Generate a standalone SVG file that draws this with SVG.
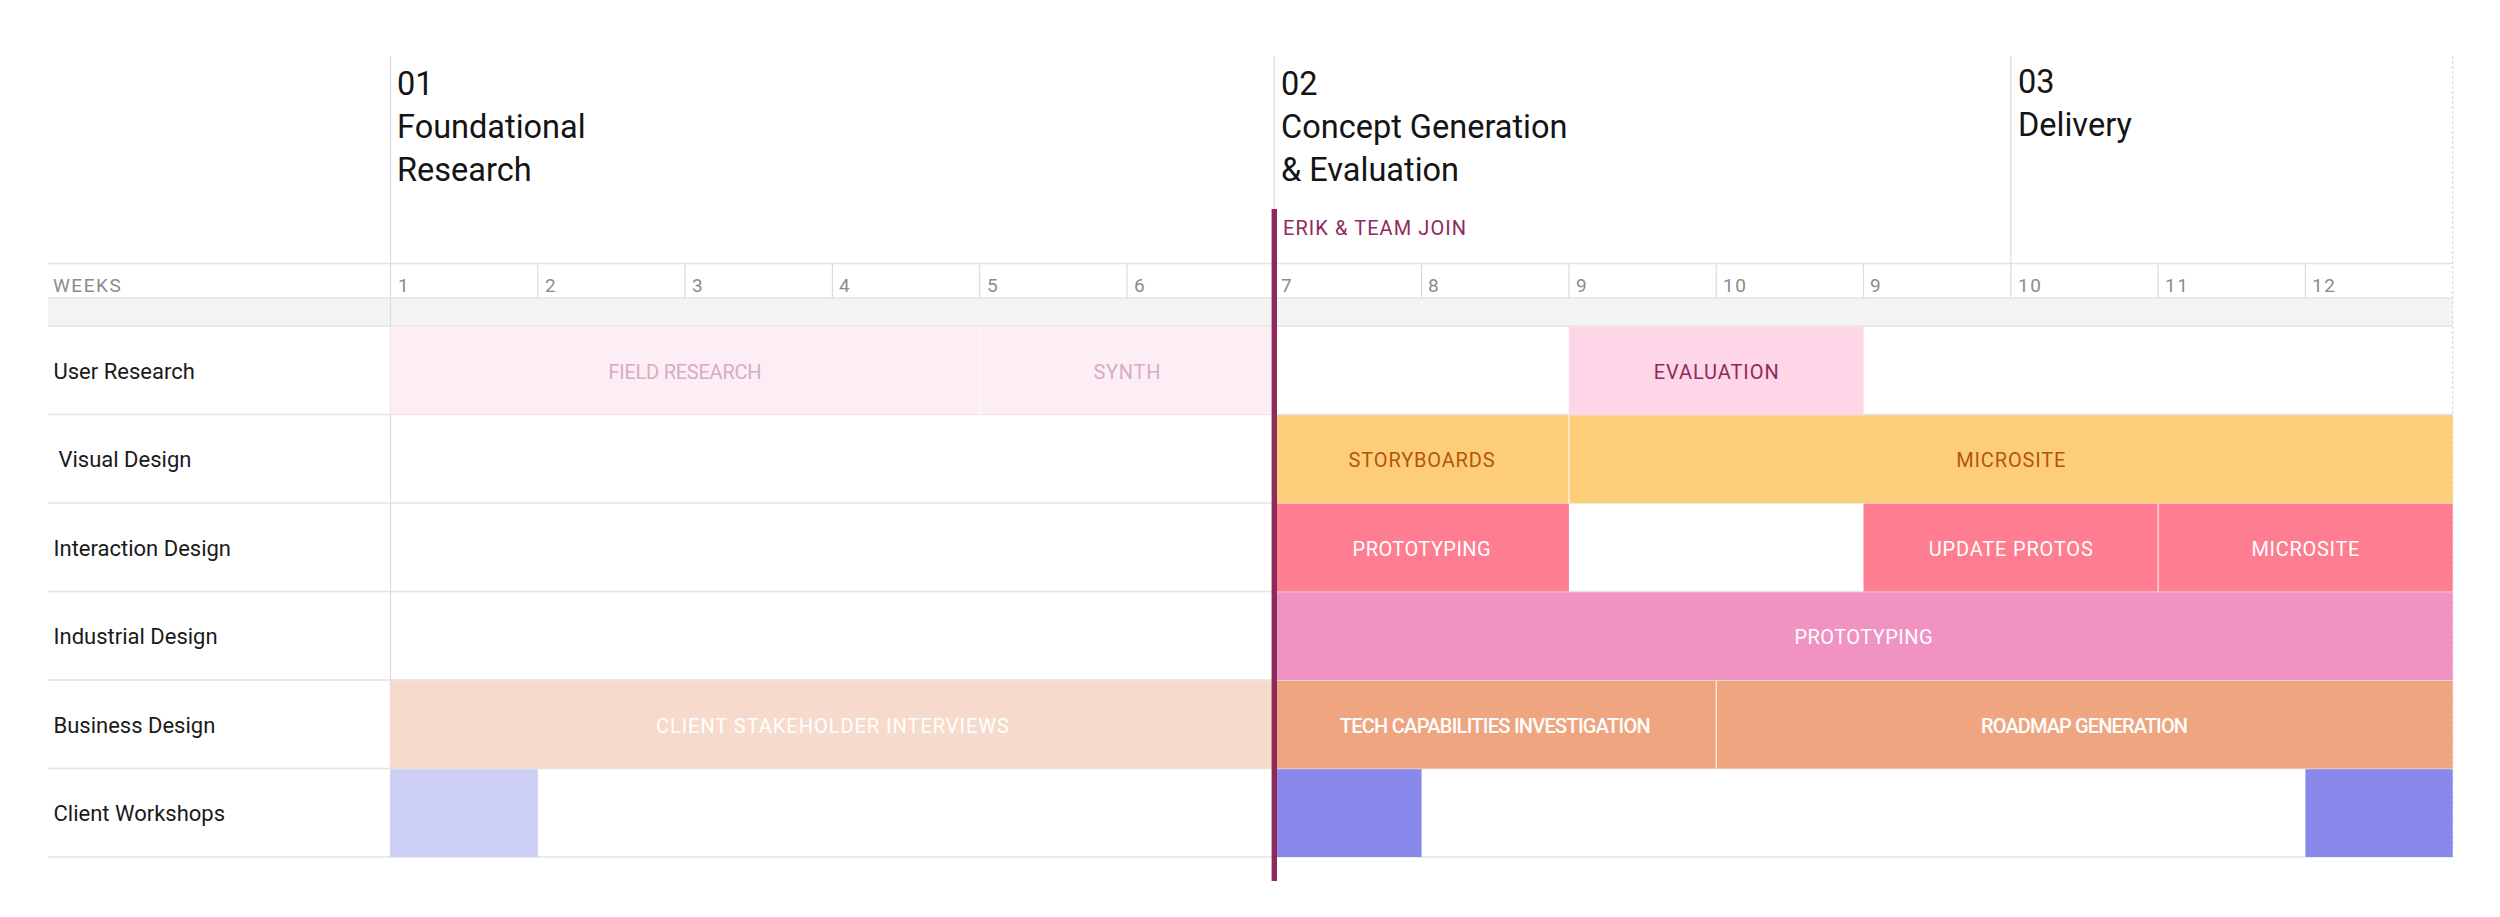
<svg xmlns="http://www.w3.org/2000/svg" width="2500" height="917" viewBox="0 0 2500 917">
<style>
  text { font-family: Roboto, "Liberation Sans", sans-serif; }
  .phase { font-size: 32.5px; fill: #141414; }
  .rowlbl { font-size: 22px; fill: #1a1a1a; }
  .wk { font-size: 19px; fill: #8c8c8c; letter-spacing: 1.5px; }
  .grid { stroke: #e3e3e3; stroke-width: 1.5; fill: none; }
  .vline { stroke: #dcdcdc; stroke-width: 1.2; fill: none; }
  .bl { font-size: 20px; text-anchor: middle; }
  .sep { stroke: #ffffff; stroke-width: 1.2; opacity: 0.8; }
</style>

<rect width="2500" height="917" fill="#ffffff"/>

<!-- header / grid -->
<g id="grid">
  <rect x="48" y="298" width="2404.7" height="28" fill="#f4f4f4"/>
  <line class="grid" x1="48" y1="263.5" x2="2452.7" y2="263.5"/>
  <line class="grid" x1="48" y1="298" x2="2452.7" y2="298"/>
  <line class="grid" x1="48" y1="326" x2="2452.7" y2="326"/>
  <line class="grid" x1="48" y1="414.5" x2="2452.7" y2="414.5"/>
  <line class="grid" x1="48" y1="503" x2="2452.7" y2="503"/>
  <line class="grid" x1="48" y1="591.5" x2="2452.7" y2="591.5"/>
  <line class="grid" x1="48" y1="680" x2="2452.7" y2="680"/>
  <line class="grid" x1="48" y1="768.5" x2="2452.7" y2="768.5"/>
  <line class="grid" x1="48" y1="857" x2="2452.7" y2="857"/>
  <line class="vline" x1="390.5" y1="56" x2="390.5" y2="857"/>
  <line class="vline" x1="1274.3" y1="56" x2="1274.3" y2="298"/>
  <line class="vline" x1="2010.8" y1="56" x2="2010.8" y2="298"/>
  <line class="vline" x1="2452.7" y1="56" x2="2452.7" y2="857" stroke="#e6e6e6" stroke-dasharray="3 2"/>
  <g class="vline">
    <line x1="537.8" y1="263.5" x2="537.8" y2="298"/>
    <line x1="685.1" y1="263.5" x2="685.1" y2="298"/>
    <line x1="832.4" y1="263.5" x2="832.4" y2="298"/>
    <line x1="979.7" y1="263.5" x2="979.7" y2="298"/>
    <line x1="1127.0" y1="263.5" x2="1127.0" y2="298"/>
    <line x1="1421.6" y1="263.5" x2="1421.6" y2="298"/>
    <line x1="1568.9" y1="263.5" x2="1568.9" y2="298"/>
    <line x1="1716.2" y1="263.5" x2="1716.2" y2="298"/>
    <line x1="1863.5" y1="263.5" x2="1863.5" y2="298"/>
    <line x1="2158.1" y1="263.5" x2="2158.1" y2="298"/>
    <line x1="2305.4" y1="263.5" x2="2305.4" y2="298"/>
  </g>
</g>

<!-- phases -->
<g id="phase-1">
  <text class="phase" x="397" y="95">01</text>
  <text class="phase" x="397" y="138">Foundational</text>
  <text class="phase" x="397" y="181">Research</text>
</g>
<g id="phase-2">
  <text class="phase" x="1281" y="95">02</text>
  <text class="phase" x="1281" y="138">Concept Generation</text>
  <text class="phase" x="1281" y="181">&amp; Evaluation</text>
</g>
<g id="phase-3">
  <text class="phase" x="2018" y="93">03</text>
  <text class="phase" x="2018" y="136">Delivery</text>
</g>

<!-- weeks row -->
<g id="weeks">
  <text class="wk" x="53" y="292" letter-spacing="2.3">WEEKS</text>
  <text class="wk" x="398" y="292">1</text>
  <text class="wk" x="545" y="292">2</text>
  <text class="wk" x="692" y="292">3</text>
  <text class="wk" x="839" y="292">4</text>
  <text class="wk" x="987" y="292">5</text>
  <text class="wk" x="1134" y="292">6</text>
  <text class="wk" x="1281" y="292">7</text>
  <text class="wk" x="1428" y="292">8</text>
  <text class="wk" x="1576" y="292">9</text>
  <text class="wk" x="1723" y="292">10</text>
  <text class="wk" x="1870" y="292">9</text>
  <text class="wk" x="2018" y="292">10</text>
  <text class="wk" x="2165" y="292">11</text>
  <text class="wk" x="2312" y="292">12</text>
</g>

<!-- row labels -->
<g id="row-labels">
  <text class="rowlbl" x="53.5" y="378.5">User Research</text>
  <text class="rowlbl" x="58.5" y="467">Visual Design</text>
  <text class="rowlbl" x="53.5" y="555.5">Interaction Design</text>
  <text class="rowlbl" x="53.5" y="644">Industrial Design</text>
  <text class="rowlbl" x="53.5" y="732.5">Business Design</text>
  <text class="rowlbl" x="53.5" y="821">Client Workshops</text>
</g>

<!-- User Research -->
<g id="ur-field-research">
  <rect x="390.5" y="326.7" width="589.2" height="87.8" fill="#fdeef5"/>
  <text class="bl" x="685" y="378.5" fill="#d8abc2" textLength="153">FIELD RESEARCH</text>
</g>
<g id="ur-synth">
  <rect x="979.7" y="326.7" width="294.6" height="87.8" fill="#fdeef5"/>
  <line x1="979.7" y1="327" x2="979.7" y2="414" stroke="#ffffff" stroke-width="1" opacity="0.6"/>
  <text class="bl" x="1127" y="378.5" fill="#d8abc2" textLength="67">SYNTH</text>
</g>
<g id="ur-evaluation">
  <rect x="1568.9" y="326.7" width="294.6" height="87.8" fill="#ffd5e8"/>
  <text class="bl" x="1716.2" y="378.5" fill="#8e2a5e" textLength="125">EVALUATION</text>
</g>

<!-- Visual Design -->
<g id="vd-storyboards">
  <rect x="1274.3" y="415.2" width="294.6" height="87.8" fill="#fecd78"/>
  <text class="bl" x="1421.6" y="467" fill="#b2560f" font-size="21" textLength="146">STORYBOARDS</text>
</g>
<g id="vd-microsite">
  <rect x="1568.9" y="415.2" width="883.8" height="87.8" fill="#fecd78"/>
  <line class="sep" x1="1568.9" y1="415" x2="1568.9" y2="503"/>
  <text class="bl" x="2010.8" y="467" fill="#b2560f" font-size="21" textLength="109">MICROSITE</text>
</g>

<!-- Interaction Design -->
<g id="id-prototyping">
  <rect x="1274.3" y="503.7" width="294.6" height="87.8" fill="#ff7d91"/>
  <text class="bl" x="1421.6" y="555.5" fill="#ffffff" font-size="21" textLength="138">PROTOTYPING</text>
</g>
<g id="id-update-protos">
  <rect x="1863.5" y="503.7" width="294.6" height="87.8" fill="#ff7d91"/>
  <text class="bl" x="2010.8" y="555.5" fill="#ffffff" font-size="21" textLength="164">UPDATE PROTOS</text>
</g>
<g id="id-microsite">
  <rect x="2158.1" y="503.7" width="294.6" height="87.8" fill="#ff7d91"/>
  <line class="sep" x1="2158.1" y1="503.7" x2="2158.1" y2="591.5"/>
  <text class="bl" x="2305.4" y="555.5" fill="#ffffff" font-size="21" textLength="108">MICROSITE</text>
</g>

<!-- Industrial Design -->
<g id="ind-prototyping">
  <rect x="1274.3" y="592.2" width="1178.4" height="87.8" fill="#f093c3"/>
  <text class="bl" x="1863.5" y="644" fill="#ffffff" font-size="21" textLength="138">PROTOTYPING</text>
</g>

<!-- Business Design -->
<g id="bd-client-interviews">
  <rect x="390.5" y="680.7" width="883.8" height="87.8" fill="#f6dbcc"/>
  <text class="bl" x="832.4" y="732.5" fill="#ffffff" font-size="19" textLength="353">CLIENT STAKEHOLDER INTERVIEWS</text>
</g>
<g id="bd-tech-capabilities">
  <rect x="1274.3" y="680.7" width="441.9" height="87.8" fill="#eea580"/>
  <text class="bl" x="1495.2" y="732.5" fill="#ffffff" font-size="18" font-weight="500" textLength="311">TECH CAPABILITIES INVESTIGATION</text>
</g>
<g id="bd-roadmap">
  <rect x="1716.2" y="680.7" width="736.5" height="87.8" fill="#eea580"/>
  <line class="sep" x1="1716.2" y1="680.7" x2="1716.2" y2="768.5"/>
  <text class="bl" x="2084.5" y="732.5" fill="#ffffff" font-size="18" font-weight="500" textLength="207">ROADMAP GENERATION</text>
</g>

<!-- Client Workshops -->
<g id="cw-week1">
  <rect x="390.5" y="769.2" width="147.3" height="87.8" fill="#cdcef5"/>
</g>
<g id="cw-week7">
  <rect x="1274.3" y="769.2" width="147.3" height="87.8" fill="#8889eb"/>
</g>
<g id="cw-week12">
  <rect x="2305.4" y="769.2" width="147.3" height="87.8" fill="#8889eb"/>
</g>

<!-- milestone -->
<g id="connectors">
  <rect x="1271.6" y="209" width="5.4" height="672" fill="#8c2a5c"/>
</g>
<g id="milestone-label">
  <text x="1283" y="235" font-size="20" fill="#8e2a5e" textLength="183">ERIK &amp; TEAM JOIN</text>
</g>
</svg>
